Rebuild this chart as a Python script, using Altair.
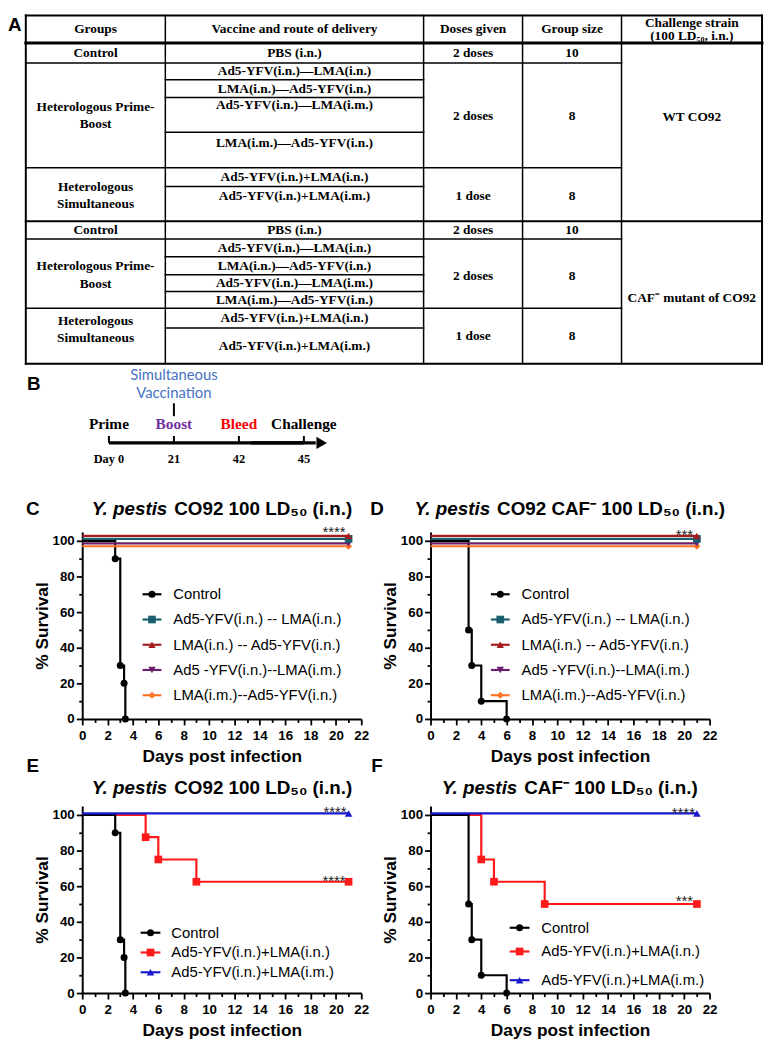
import altair as alt
import pandas as pd

# ===================== values =====================
# --- A: study design table ---
table_headers = ["Groups", "Vaccine and route of delivery", "Doses given", "Group size"]
challenge_header = ["Challenge strain", "(100 LD₅₀, i.n.)"]
group_names = ["Control", "Heterologous Prime-", "Boost", "Heterologous", "Simultaneous"]
vaccine_routes = [
    "PBS (i.n.)",
    "Ad5-YFV(i.n.)—LMA(i.n.)",
    "LMA(i.n.)—Ad5-YFV(i.n.)",
    "Ad5-YFV(i.n.)—LMA(i.m.)",
    "LMA(i.m.)—Ad5-YFV(i.n.)",
    "Ad5-YFV(i.n.)+LMA(i.n.)",
    "Ad5-YFV(i.n.)+LMA(i.m.)",
]
doses_given = ["2 doses", "2 doses", "1 dose"]
group_sizes = ["10", "8", "8"]
challenge_strains = ["WT CO92", "CAF⁻ mutant of CO92"]

# --- B: timeline ---
timeline_events = ["Prime", "Boost", "Bleed", "Challenge"]
timeline_days = ["Day 0", "21", "42", "45"]
timeline_note = ["Simultaneous", "Vaccination"]

# --- C-F: Kaplan-Meier survival ---
pb_names = ["Control", "Ad5-YFV(i.n.) -- LMA(i.n.)", "LMA(i.n.) -- Ad5-YFV(i.n.)",
            "Ad5 -YFV(i.n.)--LMA(i.m.)", "LMA(i.m.)--Ad5-YFV(i.n.)"]
sim_names = ["Control", "Ad5-YFV(i.n.)+LMA(i.n.)", "Ad5-YFV(i.n.)+LMA(i.m.)"]

ctrl_wt_days = [0, 2.6, 3.0, 3.3, 3.4]
ctrl_wt_surv = [100, 90, 30, 20, 0]
ctrl_caf_days = [0, 3.0, 3.25, 4.0, 6.0]
ctrl_caf_surv = [100, 50, 30, 10, 0]
full_days = [0, 21]
full_surv = [100, 100]
sim_in_wt_days = [0, 5, 6, 9, 21]
sim_in_wt_surv = [100, 87.5, 75, 62.5, 62.5]
sim_in_caf_days = [0, 4, 5, 9, 21]
sim_in_caf_surv = [100, 75, 62.5, 50, 50]

title_c = ["Y. pestis", "CO92 100 LD₅₀ (i.n.)"]
title_d = ["Y. pestis", "CO92 CAF⁻ 100 LD₅₀ (i.n.)"]
title_e = ["Y. pestis", "CO92 100 LD₅₀ (i.n.)"]
title_f = ["Y. pestis", "CAF⁻ 100 LD₅₀ (i.n.)"]

sig_c = [("****", 21, 100)]
sig_d = [("***", 21, 100)]
sig_e = [("****", 21, 100), ("****", 21, 62.5)]
sig_f = [("****", 21, 100), ("***", 21, 50)]

# ===================== layout & style =====================
SANS = "Liberation Sans"
SERIF = "Liberation Serif"
TOTAL_W = 763

TABLE_H = 354
col_edges = [18, 159, 420, 520, 620, 762]
hlines = [(1, 0, 5, 2), (29, 0, 5, 3), (49, 0, 4, 1.5), (66, 1, 2, 1.5), (84, 1, 2, 1.5),
          (119, 1, 2, 1.5), (155, 0, 4, 1.5), (174, 1, 2, 1.5), (209, 0, 5, 2),
          (227, 0, 4, 1.5), (245, 1, 2, 1.5), (263, 1, 2, 1.5), (280, 1, 2, 1.5),
          (297, 0, 4, 1.5), (317, 1, 2, 1.5), (353, 0, 5, 2)]
header_y = 15
challenge_header_y = [8.5, 22]
blocks_layout = [
    dict(group_y=[39, 94, 111, 174, 192], vacc_y=[39, 57.5, 75, 92, 130, 164.5, 184],
         dose_y=[39, 103, 184], strain_y=104),
    dict(group_y=[218, 254, 272, 310, 327], vacc_y=[218, 236, 254, 271.5, 288.5, 307, 335],
         dose_y=[218, 264, 325], strain_y=287),
]

timeline_colors = ["black", "#7030a0", "#ff0000", "black"]
TIMELINE_H = 104

X0, X1 = 75, 357
W_LEFT = 352
W_RIGHT = TOTAL_W - W_LEFT

# row C/D : view spans page y 466..776
CD_H = 310
CD_Y_RANGE = [253, 64]          # value 0 -> 253, 105 -> 64
# row E/F : view spans page y 776..1038
EF_H = 262
EF_Y_RANGE = [219, 30]

pb_styles = [
    dict(color="#000000", shape="circle", size=50, yoff=0),
    dict(color="#1b5e6e", shape="square", size=60, yoff=-2),
    dict(color="#a51c1c", shape="triangle-up", size=55, yoff=-5),
    dict(color="#6b1e6b", shape="triangle-down", size=55, yoff=2.5),
    dict(color="#ff7426", shape="diamond", size=50, yoff=5.5),
]
sim_styles = [
    dict(color="#000000", shape="circle", size=50, yoff=0),
    dict(color="#ff1a1a", shape="square", size=60, yoff=0),
    dict(color="#1a1acd", shape="triangle-up", size=60, yoff=-1.5),
]

ARIAL_BOLD = {' ': 278, '.': 278, '(': 333, ')': 333, '-': 333, 'A': 722, 'C': 722, 'D': 722,
              'F': 611, 'L': 611, 'O': 778, 'Y': 667, 'a': 556, 'c': 556, 'e': 556, 'i': 278,
              'n': 611, 'p': 611, 's': 556, 't': 333, '⁻': 380, '₅': 440, '₀': 440}


def tw(s, size):
    return sum(ARIAL_BOLD.get(ch, 556) for ch in s) * size / 1000.0


def one(text):
    return pd.DataFrame({"t": [text]})


# ===================== A: table =====================
def table_chart():
    mids = [(a + b) / 2 for a, b in zip(col_edges[:-1], col_edges[1:])]
    lines = []
    for y, c0, c1, w in hlines:
        lines.append(dict(x=col_edges[c0], x2=col_edges[c1], y=y, y2=y, w=w))
    for i, xe in enumerate(col_edges):
        lines.append(dict(x=xe, x2=xe, y=hlines[0][0], y2=hlines[-1][0],
                          w=2 if i in (0, len(col_edges) - 1) else 1.5))
    texts = []
    for i, h in enumerate(table_headers):
        texts.append(dict(x=mids[i], y=header_y, t=h))
    for j, h in enumerate(challenge_header):
        texts.append(dict(x=mids[4], y=challenge_header_y[j], t=h))
    for b, lay in enumerate(blocks_layout):
        for name, yy in zip(group_names, lay["group_y"]):
            texts.append(dict(x=mids[0], y=yy, t=name))
        for v, yy in zip(vaccine_routes, lay["vacc_y"]):
            texts.append(dict(x=mids[1], y=yy, t=v))
        for d, g, yy in zip(doses_given, group_sizes, lay["dose_y"]):
            texts.append(dict(x=mids[2], y=yy, t=d))
            texts.append(dict(x=mids[3], y=yy, t=g))
        texts.append(dict(x=mids[4], y=lay["strain_y"], t=challenge_strains[b]))

    xs = alt.Scale(domain=[0, TOTAL_W], nice=False, zero=False)
    ys = alt.Scale(domain=[0, TABLE_H], reverse=True, nice=False, zero=False)
    rules = alt.Chart(pd.DataFrame(lines)).mark_rule(color="black", strokeCap="square").encode(
        x=alt.X("x:Q", scale=xs, axis=None), x2="x2:Q",
        y=alt.Y("y:Q", scale=ys, axis=None), y2="y2:Q",
        strokeWidth=alt.StrokeWidth("w:Q", scale=None, legend=None))
    txt = alt.Chart(pd.DataFrame(texts)).mark_text(
        font=SERIF, fontSize=13.5, fontWeight="bold", color="black", baseline="middle").encode(
        x=alt.X("x:Q", scale=xs, axis=None), y=alt.Y("y:Q", scale=ys, axis=None), text="t:N")
    letter = alt.Chart(one("A")).mark_text(
        font=SANS, fontSize=19, fontWeight="bold", align="left", baseline="top", color="black").encode(
        x=alt.value(0), y=alt.value(2), text="t:N")
    return alt.layer(rules, txt, letter).properties(width=TOTAL_W, height=TABLE_H)


# ===================== B: timeline =====================
def timeline_chart():
    X = alt.X("event:N", scale=alt.Scale(type="point", domain=timeline_events, range=[102, 299],
                                         padding=0),
              axis=None)
    ev = pd.DataFrame({"event": timeline_events, "day": timeline_days, "color": timeline_colors})
    ay = 78
    shaft = alt.Chart(ev).mark_line(color="black", strokeWidth=3.5).encode(x=X, y=alt.value(ay))
    shaft_end = alt.Chart(ev.iloc[2:]).mark_line(color="black", strokeWidth=3.5, xOffset=12).encode(
        x=X, y=alt.value(ay))
    head = alt.Chart(ev.iloc[3:]).mark_point(shape="triangle-right", filled=True, size=150,
                                             color="black", opacity=1, xOffset=18).encode(
        x=X, y=alt.value(ay))
    ticks = alt.Chart(ev).mark_rule(color="black", strokeWidth=2).encode(
        x=X, y=alt.value(ay - 7), y2=alt.value(ay))
    labels = alt.Chart(ev).mark_text(font=SERIF, fontSize=15.5, fontWeight="bold",
                                     baseline="middle").encode(
        x=X, y=alt.value(59), text="event:N", color=alt.Color("color:N", scale=None))
    days = alt.Chart(ev).mark_text(font=SERIF, fontSize=12.5, fontWeight="bold",
                                   baseline="middle", color="black").encode(
        x=X, y=alt.value(94), text="day:N")
    boost = ev.iloc[1:2]
    vline = alt.Chart(boost).mark_rule(color="black", strokeWidth=2).encode(
        x=X, y=alt.value(38), y2=alt.value(51))
    note_layers = []
    for txt_line, yy in zip(timeline_note, [9, 28]):
        note_layers.append(alt.Chart(boost.assign(t=txt_line)).mark_text(
            font="Lato", fontSize=15, color="#4472c4", baseline="middle").encode(
            x=X, y=alt.value(yy), text="t:N"))
    letter = alt.Chart(one("B")).mark_text(font=SANS, fontSize=19, fontWeight="bold",
                                           baseline="middle", color="black").encode(
        x=alt.value(26), y=alt.value(19), text="t:N")
    return alt.layer(shaft, shaft_end, head, ticks, labels, days, vline, *note_layers, letter
                     ).properties(width=TOTAL_W, height=TIMELINE_H)


# ===================== C-F: survival panels =====================
def axes(y_range, view_h):
    x_off = -(view_h - y_range[0])
    X = alt.X("day:Q", scale=alt.Scale(domain=[0, 22], range=[X0, X1], nice=False, zero=False),
              axis=alt.Axis(values=list(range(23)),
                            labelExpr="datum.value % 2 === 0 ? datum.label : ''",
                            tickSize={"condition": {"test": "datum.value % 2 === 0", "value": 6},
                                      "value": 3.5},
                            offset=x_off,
                            labelFlush=False, labelOverlap=False, grid=False,
                            domainColor="black", domainWidth=2, tickColor="black", tickWidth=1.8,
                            labelColor="black", labelFont=SANS, labelFontSize=13.5,
                            labelFontWeight="bold", labelPadding=4,
                            title="Days post infection", titleFont=SANS, titleFontSize=17.5,
                            titleFontWeight="bold", titleColor="black", titlePadding=5))
    Y = alt.Y("surv:Q", scale=alt.Scale(domain=[0, 105], range=y_range, nice=False),
              axis=alt.Axis(values=list(range(0, 101, 10)),
                            labelExpr="datum.value % 20 === 0 ? datum.label : ''",
                            tickSize={"condition": {"test": "datum.value % 20 === 0", "value": 6},
                                      "value": 3.5},
                            offset=-X0, labelOverlap=False, grid=False,
                            domainColor="black", domainWidth=2, tickColor="black", tickWidth=1.8,
                            labelColor="black", labelFont=SANS, labelFontSize=13.5,
                            labelFontWeight="bold", labelPadding=2,
                            title="% Survival", titleFont=SANS, titleFontSize=17.5,
                            titleFontWeight="bold", titleColor="black", titlePadding=1))
    return X, Y


def km_panel(series, draw_order, names, styles, title, letters, title_y, y_range, view_h,
             legend, sigs, sig_offsets, width):
    X, Y = axes(y_range, view_h)
    layers = []
    for idx in draw_order:
        days, surv = series[idx]
        st = styles[idx]
        df = pd.DataFrame({"day": days, "surv": surv})
        layers.append(alt.Chart(df).mark_line(interpolate="step-after", color=st["color"],
                                              strokeWidth=2.2, yOffset=st["yoff"]).encode(x=X, y=Y))
        layers.append(alt.Chart(df).transform_filter("datum.day > 0").mark_point(
            shape=st["shape"], size=st["size"], filled=True, color=st["color"], opacity=1,
            yOffset=st["yoff"]).encode(x=X, y=Y))
    for (txt, d, s), (dx, dy) in zip(sigs, sig_offsets):
        df = pd.DataFrame({"day": [d], "surv": [s], "t": [txt]})
        layers.append(alt.Chart(df).mark_text(font=SANS, fontSize=15, color="#222222",
                                              align="right", baseline="alphabetic",
                                              dx=dx, dy=dy).encode(x=X, y=Y, text="t:N"))
    # legend
    for name, st, ly in zip(names, styles, legend["ys"]):
        d = one(name)
        layers.append(alt.Chart(d).mark_rule(color=st["color"], strokeWidth=2.2).encode(
            x=alt.value(legend["x0"]), x2=alt.value(legend["x1"]), y=alt.value(ly)))
        layers.append(alt.Chart(d).mark_point(shape=st["shape"], size=st["size"], filled=True,
                                              color=st["color"], opacity=1).encode(
            x=alt.value((legend["x0"] + legend["x1"]) / 2), y=alt.value(ly)))
        layers.append(alt.Chart(d).mark_text(font=SANS, fontSize=15, color="black", align="left",
                                             baseline="middle").encode(
            x=alt.value(legend["tx"]), y=alt.value(ly), text="t:N"))
    # title (italic species + rest)
    fs = 19
    w_it = tw(title[0], fs)
    w_sp = tw(" ", fs)
    w_rest = tw(title[1], fs)
    cx = (X0 + X1) / 2
    start = cx - (w_it + w_sp + w_rest) / 2
    layers.append(alt.Chart(one(title[0])).mark_text(
        font=SANS, fontSize=fs, fontWeight="bold", fontStyle="italic", align="left",
        baseline="middle", color="black").encode(x=alt.value(start), y=alt.value(title_y),
                                                 text="t:N"))
    layers.append(alt.Chart(one(title[1])).mark_text(
        font=SANS, fontSize=fs, fontWeight="bold", align="left", baseline="middle",
        color="black").encode(x=alt.value(start + w_it + w_sp), y=alt.value(title_y), text="t:N"))
    for letter, lx, lyy in letters:
        layers.append(alt.Chart(one(letter)).mark_text(
            font=SANS, fontSize=19, fontWeight="bold", baseline="middle", color="black").encode(
            x=alt.value(lx), y=alt.value(lyy), text="t:N"))
    return alt.layer(*layers).properties(width=width, height=view_h)


leg_cd = dict(x0=136, x1=155, tx=167, ys=[127, 152.5, 178, 203.5, 229])
leg_e = dict(x0=134, x1=154, tx=165, ys=[158, 178, 198])
leg_f = dict(x0=155, x1=175, tx=187, ys=[153, 177, 206])

pb_c = [(ctrl_wt_days, ctrl_wt_surv)] + [(full_days, full_surv)] * 4
pb_d = [(ctrl_caf_days, ctrl_caf_surv)] + [(full_days, full_surv)] * 4
sm_e = [(ctrl_wt_days, ctrl_wt_surv), (sim_in_wt_days, sim_in_wt_surv), (full_days, full_surv)]
sm_f = [(ctrl_caf_days, ctrl_caf_surv), (sim_in_caf_days, sim_in_caf_surv), (full_days, full_surv)]

panel_c = km_panel(pb_c, [0, 4, 3, 1, 2], pb_names, pb_styles, title_c,
                   [("C", 25, 41), ("E", 25, 301)], 41, CD_Y_RANGE, CD_H,
                   leg_cd, sig_c, [(-3, -3.5)], W_LEFT)
panel_d = km_panel(pb_d, [0, 4, 3, 1, 2], pb_names, pb_styles, title_d,
                   [("D", 21, 41), ("F", 21, 301)], 41, CD_Y_RANGE, CD_H,
                   leg_cd, sig_d, [(-4, -0.5)], W_RIGHT)
panel_e = km_panel(sm_e, [1, 0, 2], sim_names, sim_styles, title_e, [], 12, EF_Y_RANGE, EF_H,
                   leg_e, sig_e, [(-2, 2.5), (-3, 4)], W_LEFT)
panel_f = km_panel(sm_f, [1, 0, 2], sim_names, sim_styles, title_f, [], 12, EF_Y_RANGE, EF_H,
                   leg_f, sig_f, [(-2, 3), (-4, 2.5)], W_RIGHT)

row_cd = alt.hconcat(panel_c, panel_d, spacing=0, bounds="flush")
row_ef = alt.hconcat(panel_e, panel_f, spacing=0, bounds="flush")

chart = alt.vconcat(table_chart(), timeline_chart(), row_cd, row_ef,
                    spacing=0, padding=0, background="white"
                    ).configure_view(strokeWidth=0)

chart.save("out.html", embed_options={"renderer": "svg", "actions": False})
